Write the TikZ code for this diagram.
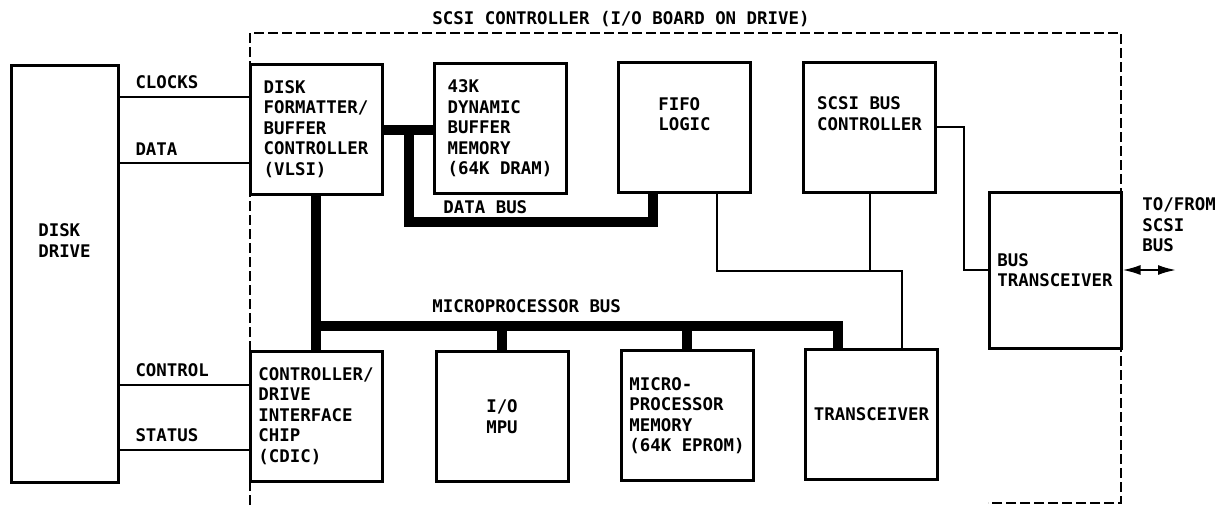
\documentclass[tikz,border=0pt]{standalone}
\usepackage{fontspec}
\usetikzlibrary{arrows.meta,calc}
\newfontfamily\plotfont{DejaVu Sans Mono}

\begin{document}
\begin{tikzpicture}[
  x=0.5pt, y=-0.5pt,
  font=\plotfont\bfseries\fontsize{8.7}{10.25}\selectfont,
  blk/.style={
    draw, fill=white, line width=1.5pt,
    minimum width=66pt, minimum height=65pt,
    align=left, inner sep=0pt},
  txt/.style={align=left, inner sep=0pt},
  sig/.style={line width=1pt},
  bus/.style={line width=5pt},
  board/.style={line width=1pt, dash pattern=on 5pt off 2pt},
  wirelbl/.style={anchor=south west, inner sep=0pt, xshift=7.5pt, yshift=3.5pt},
  buslbl/.style={anchor=south west, inner sep=0pt},
  biarrow/.style={{Latex[length=9pt, width=5pt]}-{Latex[length=9pt, width=5pt]},
                  line width=1pt},
]
\useasboundingbox (0,0) rectangle (1222,505);

% ================= I/O board outline ===============================
\draw[board] (250,505) |- (1121,33) -- (1121,503) -- (988,503);
\node (title) at (621,19) {SCSI CONTROLLER (I/O BOARD ON DRIVE)};

% ================= drive side ======================================
\node[blk, minimum width=53.5pt, minimum height=208.5pt] (drive) at (64.5,273.5) {};
\node[txt] (drivelbl) at ([yshift=16.5pt]drive.center) {DISK\\DRIVE};

% ================= upper row =======================================
\node[blk] (fmt)   at (316,129)     {DISK\\FORMATTER/\\BUFFER\\CONTROLLER\\(VLSI)};
\node[blk] (dram)  at (500,128.5)   {43K\\DYNAMIC\\BUFFER\\MEMORY\\(64K DRAM)};
\node[blk] (fifo)  at (684.5,127.5) {FIFO\\LOGIC\\\strut};
\node[blk] (sbc)   at (869.5,127)   {SCSI BUS\\CONTROLLER\\\strut};
\node[blk, minimum height=78pt] (btx) at (1055,270) {BUS\\TRANSCEIVER};

% ================= lower row =======================================
\node[blk] (cdic)  at (316,416)     {CONTROLLER/\\DRIVE\\INTERFACE\\CHIP\\(CDIC)};
\node[blk, align=center] (mpu) at (502,416.5) {I/O\\MPU};
\node[blk] (eprom) at (687,415.5)   {MICRO-\\PROCESSOR\\MEMORY\\(64K EPROM)};
\node[blk] (xcvr)  at (871.5,414.5) {TRANSCEIVER};

% ================= drive signals ===================================
\foreach \blkname/\dy/\sigtext in {fmt/16/CLOCKS, fmt/-17/DATA, cdic/15.5/CONTROL, cdic/-17/STATUS}
  \draw[sig] ([yshift=\dy pt]\blkname.west -| drive.east)
    -- node[wirelbl, pos=0] {\sigtext} ([yshift=\dy pt]\blkname.west);

% ================= data bus ========================================
\coordinate (dbtap) at (409,130);
\draw[bus] (fmt.east |- dbtap) -- (dram.west |- dbtap);
\draw[bus] (dbtap) |- ([xshift=-16pt]fifo.south |- 0,222) -- ([xshift=-16pt]fifo.south);
\node[buslbl] (dbuslbl) at (443,214) {DATA BUS};

% ================= microprocessor bus ==============================
\draw[bus] (fmt.south) -- (cdic.north);
\coordinate (mpbus) at (316,326);
\draw[bus] (mpbus) -| ([xshift=-17pt]xcvr.north);
\foreach \n in {mpu,eprom}
  \draw[bus] (\n.north) -- (\n.north |- mpbus);
\node[buslbl] (mpbuslbl) at (432,313) {MICROPROCESSOR BUS};

% ================= control lines to the SCSI side ==================
\coordinate (jn) at (902,271);
\draw[sig] ([xshift=16.25pt]fifo.south) |- (jn) -- (jn |- xcvr.north);
\draw[sig] (sbc.south) -- (sbc.south |- jn);
\draw[sig] (sbc.east) -- ++(27,0) |- (btx.west);

\coordinate (scsibus) at (1176,270);
\draw[biarrow] (btx.east) -- (scsibus);
\node[txt, anchor=west] (tofrom) at (1142,225) {TO/FROM\\SCSI\\BUS};

\end{tikzpicture}
\end{document}
